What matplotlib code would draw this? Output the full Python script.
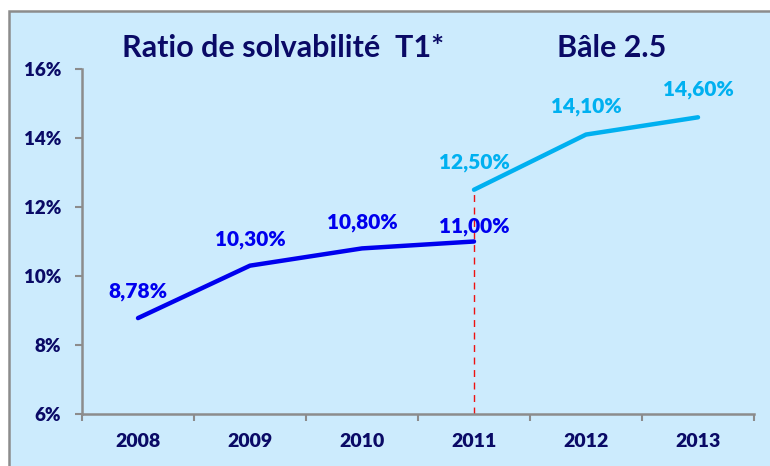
import matplotlib.pyplot as plt
from matplotlib.patches import Rectangle
from matplotlib.ticker import FixedLocator

# Données (ratio T1 en %)
years = ['2008', '2009', '2010', '2011', '2012', '2013']
t1_bale2 = [8.78, 10.30, 10.80, 11.00]          # 2008-2011
t1_bale25 = [12.50, 14.10, 14.60]               # 2011-2013
labels_bale2 = ['8,78%', '10,30%', '10,80%', '11,00%']
labels_bale25 = ['12,50%', '14,10%', '14,60%']
y_ticks = [6, 8, 10, 12, 14, 16]

navy = '#0A0A66'
dark_blue = '#0000EE'
light_blue = '#00B0F0'
bg = '#CCEBFD'
grey = '#8C8C8C'

plt.rcParams['font.family'] = ['Lato', 'DejaVu Sans']
plt.rcParams['font.weight'] = 'bold'

fig = plt.figure(figsize=(7.7, 4.66), dpi=100)
fig.patch.set_facecolor('white')
fig.patches.append(Rectangle((9 / 770, -0.01), 1.0, 1 - 11 / 466 + 0.01,
                             transform=fig.transFigure, facecolor=bg,
                             edgecolor=grey, lw=1.8, zorder=-5))

ax = fig.add_axes([82 / 770, 1 - 414 / 466, (754 - 82) / 770, (414 - 69) / 466])
ax.set_facecolor('none')
ax.set_zorder(2)

x1 = list(range(len(t1_bale2)))
x2 = list(range(3, 3 + len(t1_bale25)))
ax.plot(x1, t1_bale2, color=dark_blue, lw=3.2, solid_capstyle='round', zorder=3)
ax.plot(x2, t1_bale25, color=light_blue, lw=3.2, solid_capstyle='round', zorder=3)

# séparation Bâle 2 / Bâle 2.5
ax.plot([3, 3], [6, t1_bale25[0]], color='#EE1111', lw=1.0, ls=(0, (5, 4)), zorder=2)

for x, v, t in zip(x1, t1_bale2, labels_bale2):
    dy = 4 if x == 3 else 12
    ax.annotate(t, (x, v), xytext=(0, dy), textcoords='offset points',
                ha='center', va='bottom', color=dark_blue, fontsize=15, fontweight='heavy')
for x, v, t in zip(x2, t1_bale25, labels_bale25):
    ax.annotate(t, (x, v), xytext=(0, 13), textcoords='offset points',
                ha='center', va='bottom', color=light_blue, fontsize=15, fontweight='heavy')

ax.set_xlim(-0.5, 5.5)
ax.set_ylim(6, 16)
ax.set_xticks(range(len(years)))
ax.set_xticklabels(years, fontweight='heavy')
ax.xaxis.set_minor_locator(FixedLocator([i - 0.5 for i in range(len(years) + 1)]))
ax.tick_params(axis='x', which='major', length=0, pad=14, labelsize=14, labelcolor=navy)
ax.tick_params(axis='x', which='minor', length=5, width=1.5, color=grey, direction='out')
ax.set_yticks(y_ticks)
ax.set_yticklabels([f'{t}%' for t in y_ticks], fontweight='heavy')
ax.tick_params(axis='y', length=5, width=1.5, color=grey, pad=10, labelsize=13.5, labelcolor=navy)

for s in ['top', 'right']:
    ax.spines[s].set_visible(False)
for s in ['left', 'bottom']:
    ax.spines[s].set_color(grey)
    ax.spines[s].set_linewidth(1.8)

fig.text(283 / 770, 1 - 48 / 466, 'Ratio de solvabilité  T1*', ha='center', va='center',
         color=navy, fontsize=22, fontweight='bold')
fig.text(612 / 770, 1 - 48 / 466, 'Bâle 2.5', ha='center', va='center',
         color=navy, fontsize=22, fontweight='bold')

fig.savefig('out.png', dpi=100)
